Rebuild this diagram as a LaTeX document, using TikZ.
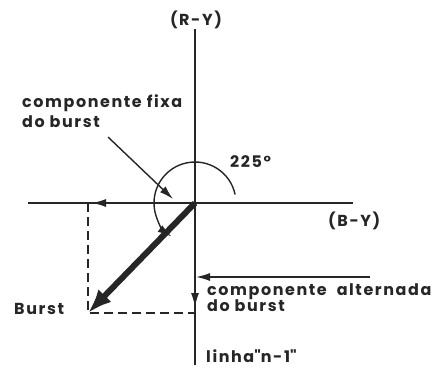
\documentclass[tikz,border=0pt]{standalone}
\usepackage{fontspec}
\setmainfont{Poppins}[LetterSpace=10]
\usetikzlibrary{arrows.meta}
\begin{document}
\begin{tikzpicture}[x=1bp,y=-1bp,
  ln/.style={line width=1.4bp,black!85},
  tip/.style={-{Latex[length=14bp,width=8bp]}},
  lbl/.style={font=\bfseries\fontsize{16}{20}\selectfont,text=black!85,inner sep=0pt,align=left}]
\useasboundingbox[fill=white] (0,0) rectangle (441,369);
% axes
\coordinate (O) at (195,203);
\coordinate (T) at (195,29);
\coordinate (Bt) at (195,365);
\coordinate (L) at (28,203);
\coordinate (R) at (353,203);
\coordinate (P) at (88,313);
\coordinate (Px) at (88,203);
\coordinate (Py) at (195,313);
\draw[ln] (T) -- (Bt);
\draw[ln] (L) -- (R);
% mid-line arrows
\coordinate (a1s) at (114,203); \coordinate (a1e) at (92,203);
\draw[ln,tip] (a1s) -- (a1e);
\coordinate (a2s) at (195,285); \coordinate (a2e) at (195,307);
\draw[ln,tip] (a2s) -- (a2e);
% dashed projections
\draw[ln,dash pattern=on 9bp off 5bp] (Px) -- (P) -- (Py);
% burst vector
\draw[line width=6bp,black!85,-{Latex[length=24bp,width=18bp]}] (O) -- (P);
% angle arc
\draw[ln,tip] ([shift={(12:41bp)}]O) arc[start angle=12,end angle=235,radius=41bp];
% leader for fixed component
\coordinate (f1) at (108,137); \coordinate (f2) at (173,199);
\draw[ln,tip] (f1) -- (f2);
% alternating component arrow
\coordinate (g1) at (370,277); \coordinate (g2) at (196,277);
\draw[ln,tip] (g1) -- (g2);
% labels
\node[lbl,anchor=base] (ry) at (196,25) {(R-Y)};
\node[lbl,anchor=base west] (by) at (328,226) {(B-Y)};
\node[lbl,anchor=base west] (fixa1) at (22,107) {componente fixa};
\node[lbl,anchor=base west] (fixa2) at (22,127) {do burst};
\node[lbl,anchor=base west] (ang) at (230,167) {225°};
\node[lbl,anchor=base west] (alt1) at (207,295) {componente \ alternada};
\node[lbl,anchor=base west] (alt2) at (207,311) {do burst};
\node[lbl,anchor=base west] (bu) at (14,314) {Burst};
\node[lbl,anchor=base west] (lin) at (206,362) {linha\textquotedbl n-1\textquotedbl};
\end{tikzpicture}
\end{document}
